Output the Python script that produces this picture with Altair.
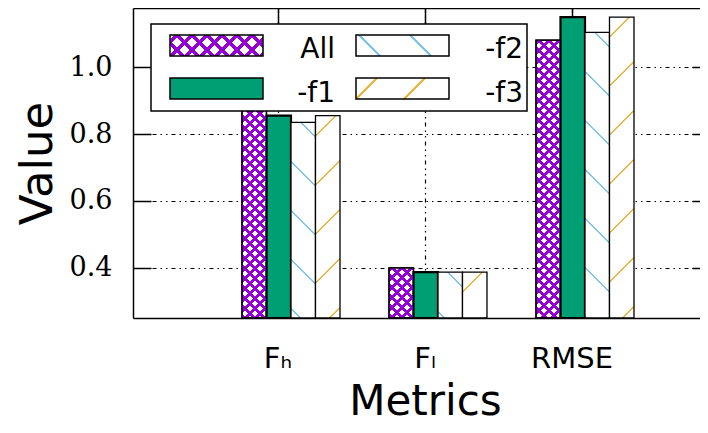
import math
import altair as alt
import pandas as pd

# ---------------- data ----------------
metrics = ["Fₕ", "Fₗ", "RMSE"]
series = ["All", "-f1", "-f2", "-f3"]
val_all = [0.877, 0.400, 1.081]
val_f1 = [0.855, 0.387, 1.150]
val_f2 = [0.835, 0.387, 1.104]
val_f3 = [0.855, 0.387, 1.150]
y_ticks = [0.4, 0.6, 0.8, 1.0]
y_domain = [0.25, 1.177]

# ---------------- style ----------------
PURPLE = "#9400d3"
GREEN = "#009e73"
BLUE = "#7cc4ee"
ORANGE = "#ecb43a"
CLEAR = "rgba(255,255,255,0)"
W, H = 567, 310
KPX = H / (y_domain[1] - y_domain[0])
BAR_W = 24.5
DASH = [4, 4, 1.5, 4, 1.5, 4]

rows = []
for s, vals in zip(series, [val_all, val_f1, val_f2, val_f3]):
    for m, v in zip(metrics, vals):
        rows.append({"metric": m, "series": s, "value": v})
df = pd.DataFrame(rows)


def stripes(w, h, kind, S, lw, color, bg, phase):
    """Hatch fill built from a linear gradient with hard stops (bbox units)."""
    lam = (w + h) / (w * w + h * h)
    if kind == "/":
        x1, y1, x2, y2 = 0.0, 0.0, w * lam, h * lam
        qmin = 0.0
    else:
        x1, y1, x2, y2 = 0.0, 1.0, w * lam, 1.0 - h * lam
        qmin = -float(h)
    span = w + h
    qmax = qmin + span
    stops = [{"offset": 0.0, "color": bg}]
    k = math.floor((qmin - lw - phase) / S)
    while True:
        c = phase + k * S
        k += 1
        if c - lw / 2 > qmax:
            break
        a = (c - lw / 2 - qmin) / span
        b = (c + lw / 2 - qmin) / span
        if b <= 0 or a >= 1:
            continue
        a = round(max(a, 0.0), 5)
        b = round(min(b, 1.0), 5)
        stops += [{"offset": a, "color": bg}, {"offset": a, "color": color},
                  {"offset": b, "color": color}, {"offset": b, "color": bg}]
    stops.append({"offset": 1.0, "color": bg})
    return {"gradient": "linear", "x1": round(x1, 5), "y1": round(y1, 5),
            "x2": round(x2, 5), "y2": round(y2, 5), "stops": stops}


def bar_h(v):
    return (v - y_domain[0]) * KPX


# fills per bar
conds_main = []
conds_over = []
for s, vals in zip(series, [val_all, val_f1, val_f2, val_f3]):
    for m, v in zip(metrics, vals):
        test = f"datum.metric === '{m}' && datum.series === '{s}'"
        h = bar_h(v)
        if s == "All":
            g = stripes(BAR_W, h, "/", 10, 4.0, PURPLE, "white", 3)
            conds_over.append({"test": test, "value": stripes(BAR_W, h, "\\", 10, 4.0, PURPLE, CLEAR, 3)})
        elif s == "-f1":
            g = GREEN
        elif s == "-f2":
            g = stripes(BAR_W, h, "\\", 49, 2.2, BLUE, "white", 10)
        else:
            g = stripes(BAR_W, h, "/", 49, 2.2, ORANGE, "white", 20)
        conds_main.append({"test": test, "value": g})

xscale = alt.Scale(domain=metrics, paddingInner=0, paddingOuter=0.4286, align=0.5675)
xoff_scale = alt.Scale(domain=series, paddingInner=0, paddingOuter=1, align=0.765)
yscale = alt.Scale(domain=y_domain, zero=False, nice=False)


def enc(xaxis, yaxis):
    return dict(
        x=alt.X("metric:N", scale=xscale, axis=xaxis),
        xOffset=alt.XOffset("series:N", scale=xoff_scale),
        y=alt.Y("value:Q", scale=yscale, axis=yaxis),
        y2=alt.datum(y_domain[0]),
    )


x_main = alt.Axis(
    orient="bottom", bandPosition=0.5, ticks=False, tickSize=0, labelPadding=26,
    labelFont="DejaVu Sans", labelFontSize=29, labelAngle=0, labelColor="black",
    domainColor="black", domainWidth=1.5, grid=True, gridColor="black",
    gridDash=DASH, gridWidth=1.2, zindex=0,
    title="Metrics", titleFont="DejaVu Sans", titleFontSize=42,
    titleFontWeight="normal", titleColor="black", titleX=292, titleY=96,
    titleBaseline="alphabetic", titleAlign="center",
)
y_main = alt.Axis(
    orient="left", values=y_ticks, format=".1f", ticks=False, tickSize=0,
    labelPadding=21, labelFont="DejaVu Serif", labelFontSize=27,
    labelColor="black", domainColor="black", domainWidth=1.5, grid=True,
    gridColor="black", gridDash=DASH, gridWidth=1.2, zindex=0,
    title="Value", titleFont="DejaVu Sans", titleFontSize=45,
    titleFontWeight="normal", titleColor="black", titleX=-82, titleY=155,
    titleAngle=270, titleBaseline="alphabetic", titleAlign="center",
)

bars = alt.Chart(df).mark_bar(stroke="black").encode(
    **enc(x_main, y_main),
    fill={"condition": conds_main, "value": "white"},
    strokeWidth={"condition": {"test": "datum.series === '-f1'", "value": 2.2}, "value": 1.3},
)

overlay = alt.Chart(df).transform_filter(alt.datum.series == "All").mark_bar(
    stroke="black", strokeWidth=1.3
).encode(
    **enc(None, None),
    fill={"condition": conds_over, "value": CLEAR},
)

ticks_a = alt.Chart(df).mark_bar(opacity=0).encode(
    **enc(
        alt.Axis(orient="top", offset=-17, tickSize=17, ticks=True, tickColor="black",
                 tickWidth=1.5, labels=False, domain=False, grid=False, title=None,
                 bandPosition=0.5, zindex=0),
        alt.Axis(orient="left", offset=-18, tickSize=18, ticks=True, tickColor="black",
                 tickWidth=1.5, labels=False, domain=False, grid=False, title=None,
                 values=y_ticks, zindex=0),
    )
)
ticks_b = alt.Chart(df).mark_bar(opacity=0).encode(
    **enc(
        alt.Axis(orient="top", ticks=False, labels=False, domain=True, domainColor="black",
                 domainWidth=1.5, grid=False, title=None, zindex=0),
        alt.Axis(orient="right", offset=-8, tickSize=8, ticks=True, tickColor="black",
                 tickWidth=1.5, labels=False, domain=False, grid=False, title=None,
                 values=y_ticks, zindex=0),
    )
)

one = alt.Data(values=[{"k": 0}])
legend_layers = [
    alt.Chart(one).mark_rect(fill="white", stroke="black", strokeWidth=1.5).encode(
        x=alt.value(18), x2=alt.value(394), y=alt.value(16), y2=alt.value(103)
    )
]
SW_W, SW_H = 93, 21
swatch_fills = {
    "All": [stripes(SW_W, SW_H, "/", 15, 5.0, PURPLE, "white", 7),
            stripes(SW_W, SW_H, "\\", 15, 5.0, PURPLE, CLEAR, 7)],
    "-f1": [GREEN],
    "-f2": [stripes(SW_W, SW_H, "\\", 51, 2.2, BLUE, "white", 3)],
    "-f3": [stripes(SW_W, SW_H, "/", 48, 2.2, ORANGE, "white", 21)],
}
slots = {"All": (37, 27, 202, 50), "-f1": (37, 70, 202, 94),
         "-f2": (223, 27, 390, 50), "-f3": (223, 70, 390, 94)}
for s in series:
    sx, sy, tx, ty = slots[s]
    for i, f in enumerate(swatch_fills[s]):
        last = i == len(swatch_fills[s]) - 1
        legend_layers.append(
            alt.Chart(one).mark_rect(
                fill=f, stroke="black" if last else CLEAR, strokeWidth=1.5
            ).encode(x=alt.value(sx), x2=alt.value(sx + SW_W),
                     y=alt.value(sy), y2=alt.value(sy + SW_H))
        )
    legend_layers.append(
        alt.Chart(one).mark_text(
            align="right", baseline="alphabetic", font="DejaVu Sans",
            fontSize=28, color="black"
        ).encode(x=alt.value(tx), y=alt.value(ty), text=alt.value(s))
    )

chart = alt.layer(bars, overlay, ticks_a, ticks_b, *legend_layers).resolve_axis(
    x="independent", y="independent"
).properties(
    width=W, height=H,
    padding={"left": 125, "top": 0, "right": 0, "bottom": 107},
    autosize=alt.AutoSizeParams(type="none"),
    background="white",
).configure_view(stroke=None)

chart.save("out.html", embed_options={"renderer": "svg", "actions": False})
